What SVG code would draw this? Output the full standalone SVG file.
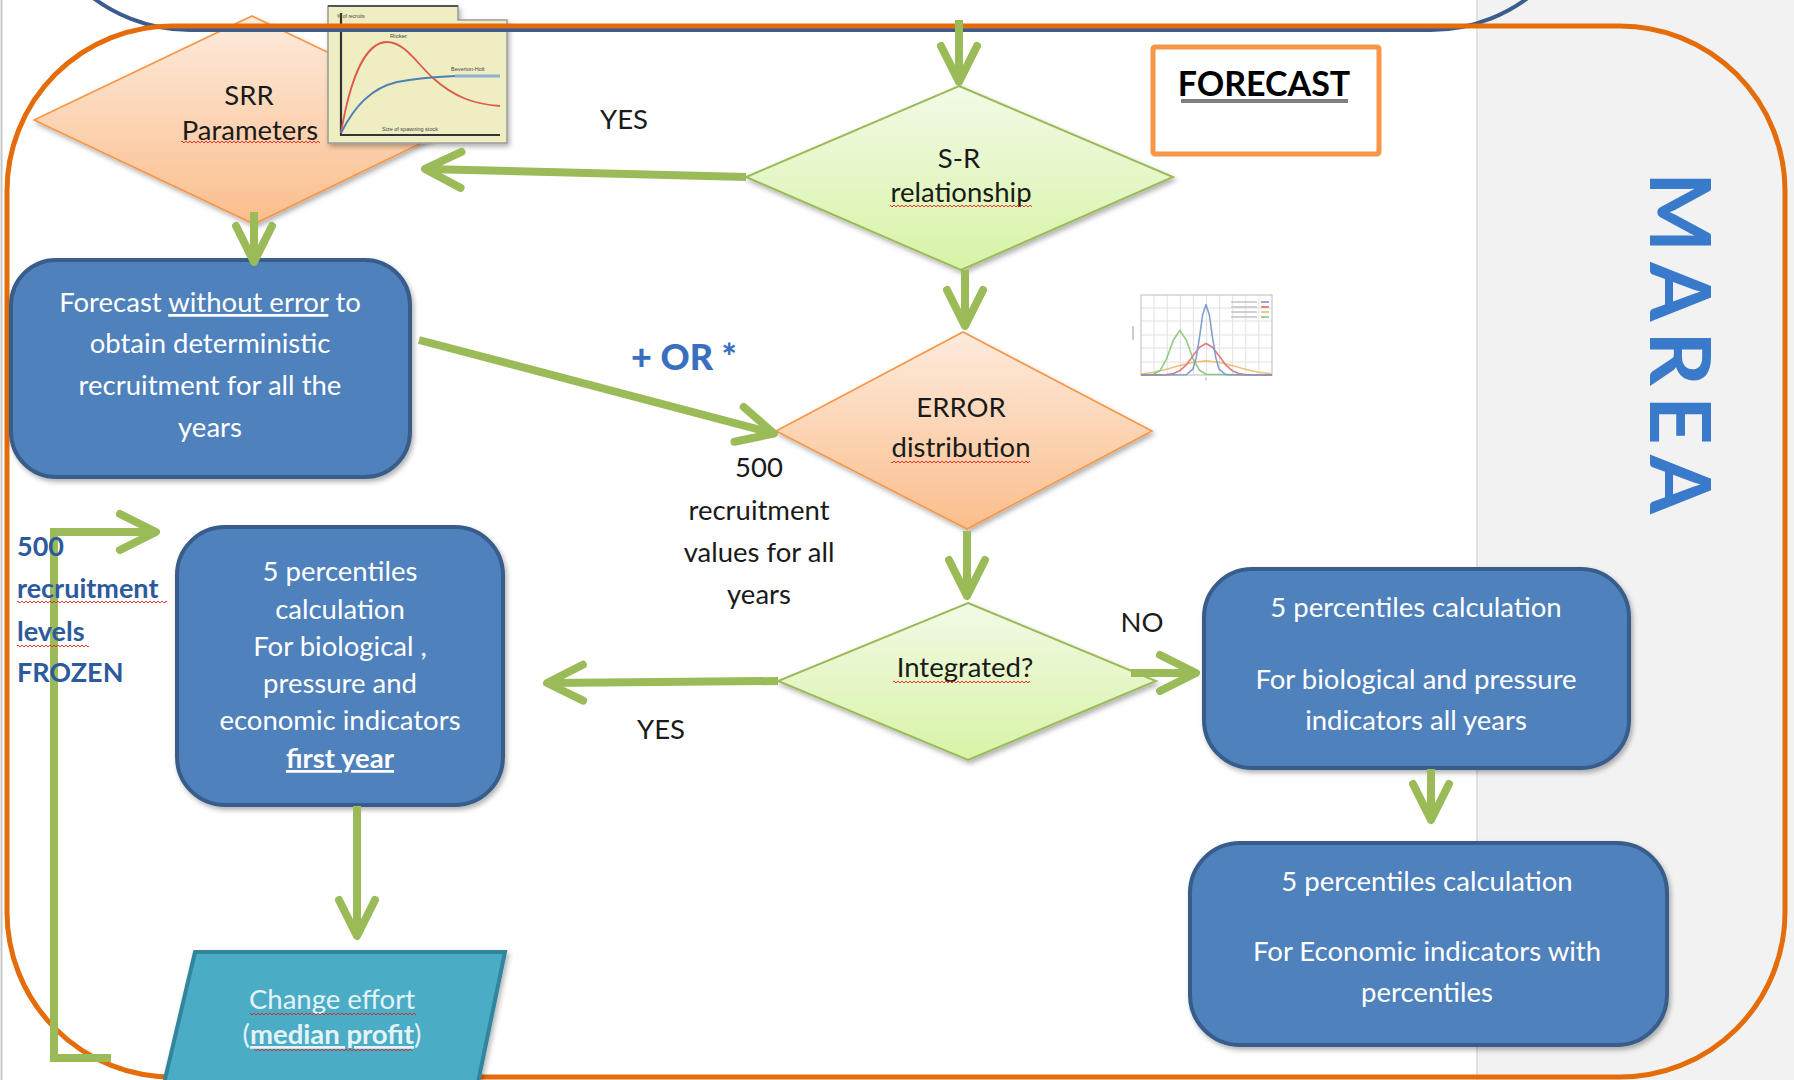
<svg xmlns="http://www.w3.org/2000/svg" width="1794" height="1080" viewBox="0 0 1794 1080">
<defs>
  <linearGradient id="gOr" x1="0" y1="0" x2="0" y2="1">
    <stop offset="0" stop-color="#FDEBDD"/><stop offset="1" stop-color="#FBBE8C"/>
  </linearGradient>
  <linearGradient id="gGr" x1="0" y1="0" x2="0" y2="1">
    <stop offset="0" stop-color="#F2FAE6"/><stop offset="1" stop-color="#D8F3A6"/>
  </linearGradient>
  <filter id="sh" x="-10%" y="-10%" width="130%" height="130%">
    <feDropShadow dx="2" dy="3" stdDeviation="2.5" flood-color="#000" flood-opacity="0.3"/>
  </filter>
  <marker id="ah" markerUnits="userSpaceOnUse" viewBox="0 0 56 60" markerWidth="56" markerHeight="60" refX="42" refY="30" orient="auto" overflow="visible">
    <path d="M8,12 L44,30 L8,48" fill="none" stroke="#9BBB59" stroke-width="8" stroke-linecap="round" stroke-linejoin="round"/>
  </marker>
  <pattern id="wavy" patternUnits="userSpaceOnUse" width="4" height="4">
    <path d="M0,3 L2,1 L4,3" fill="none" stroke="#E02020" stroke-width="0.9"/>
  </pattern>
  <style>
    .box { fill:#4F81BD; stroke:#385D8A; stroke-width:4; filter:url(#sh); }
    .txt { font-family:Lato, "Liberation Sans", sans-serif; font-size:27.5px; text-anchor:middle; }
    .w { fill:#FFFFFF; }
    .k { fill:#1A1A1A; }
    .dOr { fill:url(#gOr); stroke:#F79646; stroke-width:1.6; filter:url(#sh); }
    .dGr { fill:url(#gGr); stroke:#9BBB59; stroke-width:2; filter:url(#sh); }
    .conn { fill:none; stroke:#9BBB59; stroke-width:8; marker-end:url(#ah); }
    .sq { fill:url(#wavy); }
    .tiny { font-family:"Liberation Sans", Arial, sans-serif; fill:#444; }
  </style>
</defs>

<rect x="0" y="0" width="1794" height="1080" fill="#FFFFFF"/>
<rect x="1477" y="0" width="317" height="1080" fill="#F2F2F2"/>
<line x1="1477" y1="0" x2="1477" y2="1080" stroke="#D9D9D9" stroke-width="1.5"/>
<line x1="1.5" y1="0" x2="1.5" y2="1080" stroke="#C8C8C8" stroke-width="2"/>

<!-- SRR Parameters -->
<g id="srr-parameters">
  <polygon class="dOr" points="252,16 469,120 254,224 34,120"/>
  <text class="txt k" x="249" y="105">SRR</text>
  <text class="txt k" x="250" y="140">Parameters</text>
  <rect class="sq" x="181" y="140" width="139" height="4"/>
</g>

<!-- SRR chart picture -->
<g id="srr-chart">
  <path d="M328,6 H458 V20 H507 V143 H328 Z" fill="#EEEEC2" stroke="#9A9A9A" stroke-width="1.5" filter="url(#sh)"/>
  <line x1="328" y1="6" x2="458" y2="6" stroke="#555" stroke-width="2"/>
  <line x1="341" y1="13" x2="341" y2="135" stroke="#333" stroke-width="2.2"/>
  <line x1="340" y1="135" x2="500" y2="135" stroke="#333" stroke-width="2.2"/>
  <path d="M341,133 C350,80 365,42 387,42 C405,42 418,65 433,78 C455,98 475,104 500,106" fill="none" stroke="#E05A4A" stroke-width="1.8"/>
  <path d="M341,133 C355,105 372,88 397,82 C417,78 430,77 455,76" fill="none" stroke="#4F7FB5" stroke-width="1.8"/>
  <line x1="455" y1="76" x2="500" y2="76" stroke="#8DB0D3" stroke-width="3"/>
  <text class="tiny" x="337" y="18" font-size="5">% of recruits</text>
  <text class="tiny" x="390" y="38" font-size="6">Ricker</text>
  <text class="tiny" x="451" y="71" font-size="5.5">Beverton-Holt</text>
  <text class="tiny" x="382" y="131" font-size="5.5">Size of spawning stock</text>
</g>

<!-- frames -->
<g id="frames">
  <rect x="28" y="-400" width="1565" height="430" rx="162" fill="none" stroke="#3B5C8F" stroke-width="4"/>
  <rect x="7" y="26" width="1778" height="1051" rx="165" fill="none" stroke="#E46C0A" stroke-width="5"/>
</g>

<!-- FORECAST title -->
<g id="forecast-title">
  <rect x="1153" y="47" width="226" height="107" rx="2" fill="#FFFFFF" stroke="#F79646" stroke-width="5"/>
  <text x="1264" y="96" font-family="Lato, 'Liberation Sans', sans-serif" font-weight="bold" font-size="34" text-anchor="middle" fill="#000">FORECAST</text>
  <rect x="1181" y="99" width="167" height="4" fill="#7F7F7F"/>
</g>

<!-- MAREA vertical label -->
<g id="marea">
  <text transform="translate(1650,172) rotate(90)" x="0" y="0" font-family="Lato, 'Open Sans', sans-serif" font-weight="bold" font-size="85" letter-spacing="10" fill="#3A7ACB">MAREA</text>
</g>

<!-- S-R relationship -->
<g id="sr-relationship">
  <polygon class="dGr" points="959,86 1173,177 961,270 746,177"/>
  <text class="txt k" x="959" y="168">S-R</text>
  <text class="txt k" x="961" y="202">relationship</text>
  <rect class="sq" x="890" y="204" width="142" height="4"/>
</g>

<!-- ERROR distribution -->
<g id="error-distribution">
  <polygon class="dOr" points="963,332 1152,431 967,529 776,431"/>
  <text class="txt k" x="961" y="417">ERROR</text>
  <text class="txt k" x="961" y="457">distribution</text>
  <rect class="sq" x="891" y="460" width="139" height="4"/>
</g>

<!-- normal distribution picture -->
<g id="error-chart">
  <rect x="1130" y="290" width="144" height="92" fill="#FFFFFF"/>
  <g stroke="#E2E2E2" stroke-width="1">
    <line x1="1154.1" y1="295" x2="1154.1" y2="375"/><line x1="1167.2" y1="295" x2="1167.2" y2="375"/>
    <line x1="1180.3" y1="295" x2="1180.3" y2="375"/><line x1="1193.4" y1="295" x2="1193.4" y2="375"/>
    <line x1="1206.5" y1="295" x2="1206.5" y2="375"/><line x1="1219.6" y1="295" x2="1219.6" y2="375"/>
    <line x1="1232.7" y1="295" x2="1232.7" y2="375"/><line x1="1245.8" y1="295" x2="1245.8" y2="375"/>
    <line x1="1258.9" y1="295" x2="1258.9" y2="375"/>
    <line x1="1141" y1="308" x2="1272" y2="308"/><line x1="1141" y1="321" x2="1272" y2="321"/>
    <line x1="1141" y1="335" x2="1272" y2="335"/><line x1="1141" y1="348" x2="1272" y2="348"/>
    <line x1="1141" y1="362" x2="1272" y2="362"/>
  </g>
  <rect x="1141" y="295" width="131" height="80" fill="none" stroke="#BBBBBB" stroke-width="1"/>
  <line x1="1133" y1="326" x2="1133" y2="340" stroke="#BBBBBB" stroke-width="1.5"/>
  <line x1="1206" y1="377" x2="1206" y2="381" stroke="#BBBBBB" stroke-width="1"/>
  <g fill="none" stroke-width="1.6" stroke-linejoin="round" opacity="0.85">
    <polyline stroke="#E8B76A" points="1141,374 1153.6,372.2 1166.7,369.3 1179.8,365.6 1192.9,362.3 1206,360.9 1219.1,362.3 1232.2,365.6 1245.3,369.3 1258.4,372.2 1271.5,373.8"/>
    <polyline stroke="#7CC36A" points="1141,375 1153.6,374.2 1160.2,370.3 1166.7,358.6 1173.3,340.3 1179.8,330.4 1186.4,340.3 1192.9,358.6 1199.5,370.3 1206,374.2 1272,375"/>
    <polyline stroke="#DD6464" points="1141,375 1166.7,374.6 1173.3,373.6 1179.8,370.7 1186.4,364.8 1192.9,355.9 1199.5,347.2 1206,343.5 1212.5,347.2 1219.1,355.9 1225.6,364.8 1232.2,370.7 1238.8,373.6 1245.3,374.6 1272,375"/>
    <polyline stroke="#6C8FC7" points="1141,375 1186.4,374.7 1192.9,369.2 1196.2,357.7 1199.5,337.3 1202.7,314.7 1206,304.5 1209.3,314.7 1212.5,337.3 1215.8,357.7 1219.1,369.2 1225.6,374.7 1272,375"/>
  </g>
  <g stroke="#B5B5B5" stroke-width="1.2">
    <line x1="1231" y1="302" x2="1257" y2="302"/><line x1="1231" y1="307" x2="1257" y2="307"/>
    <line x1="1231" y1="312" x2="1257" y2="312"/><line x1="1231" y1="317" x2="1257" y2="317"/>
  </g>
  <line x1="1261" y1="302" x2="1269" y2="302" stroke="#6C8FC7" stroke-width="1.5"/>
  <line x1="1261" y1="307" x2="1269" y2="307" stroke="#DD6464" stroke-width="1.5"/>
  <line x1="1261" y1="312" x2="1269" y2="312" stroke="#E8B76A" stroke-width="1.5"/>
  <line x1="1261" y1="317" x2="1269" y2="317" stroke="#7CC36A" stroke-width="1.5"/>
</g>

<!-- Integrated? -->
<g id="integrated">
  <polygon class="dGr" points="968,603 1156,681 968,760 778,681"/>
  <text class="txt k" x="965" y="677">Integrated?</text>
  <rect class="sq" x="893" y="680" width="137" height="4"/>
</g>

<!-- Forecast without error -->
<g id="forecast-without-error">
  <rect class="box" x="11" y="260" width="399" height="217" rx="45"/>
  <text class="txt w" x="210" y="312">Forecast <tspan style="text-decoration:underline">without error</tspan> to</text>
  <text class="txt w" x="210" y="353">obtain deterministic</text>
  <text class="txt w" x="210" y="395">recruitment for all the</text>
  <text class="txt w" x="210" y="437">years</text>
</g>

<!-- 5 percentiles first year -->
<g id="percentiles-first-year">
  <rect class="box" x="177" y="527" width="326" height="278" rx="48"/>
  <text class="txt w" x="340" y="581">5 percentiles</text>
  <text class="txt w" x="340" y="619">calculation</text>
  <text class="txt w" x="340" y="656">For biological ,</text>
  <text class="txt w" x="340" y="693">pressure and</text>
  <text class="txt w" x="340" y="730">economic indicators</text>
  <text class="txt w" x="340" y="768" font-weight="bold" style="text-decoration:underline">first year</text>
</g>

<!-- Change effort -->
<g id="change-effort">
  <polygon points="195,952 505,952 476,1092 162,1092" fill="#4BACC6" stroke="#31859C" stroke-width="4" filter="url(#sh)"/>
  <text class="txt" x="332" y="1009" fill="#E4F3F8">Change effort</text>
  <text class="txt" x="332" y="1044" fill="#E4F3F8">(<tspan font-weight="bold" style="text-decoration:underline">median profit</tspan>)</text>
  <rect class="sq" x="250" y="1012" width="166" height="4"/>
  <rect class="sq" x="254" y="1048" width="158" height="4"/>
</g>

<!-- 5 percentiles all years -->
<g id="percentiles-all-years">
  <rect class="box" x="1204" y="569" width="425" height="199" rx="48"/>
  <text class="txt w" x="1416" y="617">5 percentiles calculation</text>
  <text class="txt w" x="1416" y="689">For biological and pressure</text>
  <text class="txt w" x="1416" y="730">indicators all years</text>
</g>

<!-- 5 percentiles economic -->
<g id="percentiles-economic">
  <rect class="box" x="1190" y="843" width="477" height="202" rx="50"/>
  <text class="txt w" x="1427" y="891">5 percentiles calculation</text>
  <text class="txt w" x="1427" y="961">For Economic indicators with</text>
  <text class="txt w" x="1427" y="1002">percentiles</text>
</g>

<!-- labels -->
<g id="labels">
  <text class="txt k" x="624" y="129">YES</text>
  <text class="txt k" x="1142" y="632">NO</text>
  <text class="txt k" x="661" y="739">YES</text>
  <text class="txt k" x="759" y="477">500</text>
  <text class="txt k" x="759" y="520">recruitment</text>
  <text class="txt k" x="759" y="562">values for all</text>
  <text class="txt k" x="759" y="604">years</text>
  <text x="684" y="370" font-family="Lato, 'Liberation Sans', sans-serif" font-weight="900" font-size="36" text-anchor="middle" fill="#3A6FBF">+ OR *</text>
</g>

<!-- connectors -->
<g id="connectors">
  <path class="conn" d="M959,20 V80"/>
  <path class="conn" d="M746,177 L427,169"/>
  <path class="conn" d="M254,212 V260"/>
  <path class="conn" d="M965,270 V324"/>
  <path class="conn" d="M419,340 L772,433"/>
  <path class="conn" d="M967,531 V594"/>
  <path class="conn" d="M778,681 L549,683"/>
  <path class="conn" d="M1131,673 H1194"/>
  <path class="conn" d="M357,806 V934"/>
  <path class="conn" d="M1431,769 V818"/>
  <path class="conn" d="M111,1058 H54 V532 H154"/>
</g>

<!-- loop label drawn over the loop line -->
<g id="frozen-label">
  <g font-family="Lato, 'Liberation Sans', sans-serif" font-weight="bold" font-size="27" fill="#2C5A9C">
    <text x="17" y="556">500</text>
    <text x="17" y="598">recruitment</text>
    <text x="17" y="641">levels</text>
    <text x="17" y="682">FROZEN</text>
  </g>
  <rect class="sq" x="17" y="600" width="150" height="4"/>
  <rect class="sq" x="17" y="644" width="72" height="4"/>
</g>
</svg>
